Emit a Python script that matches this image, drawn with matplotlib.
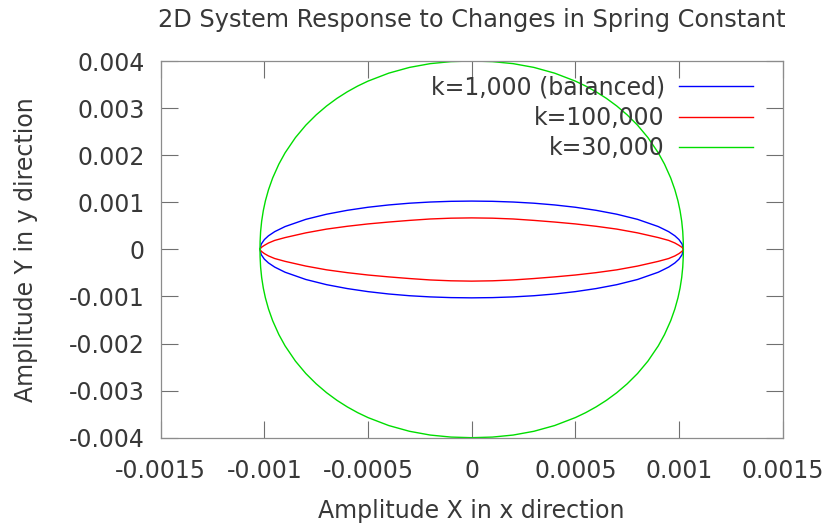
import numpy as np
import matplotlib
matplotlib.use('Agg')
import matplotlib.pyplot as plt

# values, in units of 1e-3
grid_x = [-1.021, -1.015, -1.0, -0.98, -0.95, -0.9, -0.8, -0.7, -0.6, -0.5, -0.4, -0.3, -0.2, -0.1, 0.0,
          0.1, 0.2, 0.3, 0.4, 0.5, 0.6, 0.7, 0.8, 0.9, 0.95, 0.98, 1.0, 1.015, 1.021]

# k=1,000 (balanced)
bal_upper = [0, 0.111, 0.207, 0.288, 0.376, 0.484, 0.637, 0.746, 0.829, 0.894, 0.943, 0.980, 1.005, 1.020, 1.025,
             1.020, 1.005, 0.980, 0.943, 0.894, 0.829, 0.746, 0.637, 0.484, 0.376, 0.288, 0.207, 0.111, 0]
bal_lower = [0, -0.112, -0.208, -0.289, -0.377, -0.486, -0.640, -0.750, -0.833, -0.898, -0.948, -0.985, -1.010, -1.025, -1.030,
             -1.025, -1.010, -0.985, -0.948, -0.898, -0.833, -0.750, -0.640, -0.486, -0.377, -0.289, -0.208, -0.112, 0]

# k=100,000
stiff_upper = [0, 0.04, 0.085, 0.135, 0.19, 0.25, 0.35, 0.43, 0.49, 0.54, 0.58, 0.615, 0.645, 0.662, 0.668,
               0.662, 0.645, 0.615, 0.58, 0.54, 0.49, 0.43, 0.35, 0.25, 0.19, 0.135, 0.085, 0.04, 0]
stiff_lower = [0, -0.04, -0.09, -0.14, -0.195, -0.255, -0.355, -0.435, -0.495, -0.545, -0.585, -0.62, -0.65, -0.668, -0.675,
               -0.668, -0.65, -0.62, -0.585, -0.545, -0.495, -0.435, -0.355, -0.255, -0.195, -0.14, -0.09, -0.04, 0]

# k=30,000
mid_x = [-1.021, -1.0205, -1.018, -1.013, -1.005, -0.995, -0.98, -0.96, -0.93, -0.9, -0.85, -0.8, -0.75, -0.7,
         -0.65, -0.6, -0.55, -0.5, -0.4, -0.3, -0.2, -0.1, 0.0, 0.1, 0.2, 0.3, 0.4, 0.5, 0.55, 0.6, 0.65,
         0.7, 0.75, 0.8, 0.85, 0.9, 0.93, 0.96, 0.98, 0.995, 1.005, 1.013, 1.018, 1.0205, 1.021]
mid_upper = [0, 0.165, 0.379, 0.598, 0.823, 1.029, 1.266, 1.515, 1.810, 2.050, 2.374, 2.637, 2.856, 3.044,
             3.206, 3.346, 3.468, 3.573, 3.742, 3.864, 3.944, 3.987, 4.0, 3.987, 3.944, 3.864, 3.742, 3.573, 3.468,
             3.346, 3.206, 3.044, 2.856, 2.637, 2.374, 2.050, 1.810, 1.515, 1.266, 1.029, 0.823, 0.598, 0.379,
             0.165, 0]
mid_lower = [0, -0.165, -0.379, -0.598, -0.823, -1.029, -1.266, -1.515, -1.810, -2.050, -2.374, -2.637, -2.856, -3.044,
             -3.206, -3.346, -3.468, -3.573, -3.742, -3.864, -3.944, -3.987, -4.0, -3.987, -3.944, -3.864, -3.742,
             -3.573, -3.468, -3.346, -3.206, -3.044, -2.856, -2.637, -2.374, -2.050, -1.810, -1.515, -1.266, -1.029,
             -0.823, -0.598, -0.379, -0.165, 0]

series_labels = ['k=1,000 (balanced)', 'k=100,000', 'k=30,000']
series_colors = ['#0000ff', '#ff0000', '#00dd00']

x_ticks = [-0.0015, -0.001, -0.0005, 0, 0.0005, 0.001, 0.0015]
x_ticklabels = ['-0.0015', '-0.001', '-0.0005', '0', '0.0005', '0.001', '0.0015']
y_ticks = [-0.004, -0.003, -0.002, -0.001, 0, 0.001, 0.002, 0.003, 0.004]
y_ticklabels = ['-0.004', '-0.003', '-0.002', '-0.001', '0', '0.001', '0.002', '0.003', '0.004']

scale = 1e-3
txt_col = '#383838'
frame_col = '#8c8c8c'

plt.rcParams['font.family'] = 'DejaVu Sans'
plt.rcParams['font.size'] = 17

fig = plt.figure(figsize=(8.27, 5.25), dpi=100)
ax = fig.add_axes([0.1943, 0.1663, 0.7521, 0.7175])


def loop(xs, upper, lower):
    '''Joins upper and lower halves into one closed curve.'''
    xs = np.array(xs) * scale
    x_all = np.concatenate([xs, xs[::-1]])
    y_all = np.concatenate([np.array(upper), np.array(lower)[::-1]]) * scale
    return x_all, y_all


curves = [loop(grid_x, bal_upper, bal_lower),
          loop(grid_x, stiff_upper, stiff_lower),
          loop(mid_x, mid_upper, mid_lower)]
for (cx, cy), col, lab in zip(curves, series_colors, series_labels):
    ax.plot(cx, cy, color=col, lw=1.0, label=lab, solid_joinstyle='round')

ax.set_xlim(-0.0015, 0.0015)
ax.set_ylim(-0.004, 0.004)
ax.set_xticks(x_ticks)
ax.set_xticklabels(x_ticklabels)
ax.set_yticks(y_ticks)
ax.set_yticklabels(y_ticklabels)
ax.tick_params(axis='both', direction='in', length=12.5, width=0.8, color='#707070',
               top=True, right=True, labelcolor=txt_col, labelsize=17)
ax.tick_params(axis='x', pad=15.5)
ax.tick_params(axis='y', pad=11.3)
for sp in ax.spines.values():
    sp.set_color(frame_col)
    sp.set_linewidth(0.9)

ax.set_title('2D System Response to Changes in Spring Constant', color=txt_col, fontsize=17.3, pad=24.5)
ax.set_xlabel('Amplitude X in x direction', color=txt_col, fontsize=17)
ax.set_ylabel('Amplitude Y in y direction', color=txt_col, fontsize=17)
ax.xaxis.set_label_coords(0.5, -0.162)
ax.yaxis.set_label_coords(-0.197, 0.5)

leg = ax.legend(loc='upper right', bbox_to_anchor=(0.9518, 0.961), frameon=False, markerfirst=False,
                handlelength=3.1, handletextpad=0.62, labelspacing=0.27, borderpad=0, borderaxespad=0,
                fontsize=17)
for t in leg.get_texts():
    t.set_color(txt_col)

fig.savefig('out.png', dpi=100)
